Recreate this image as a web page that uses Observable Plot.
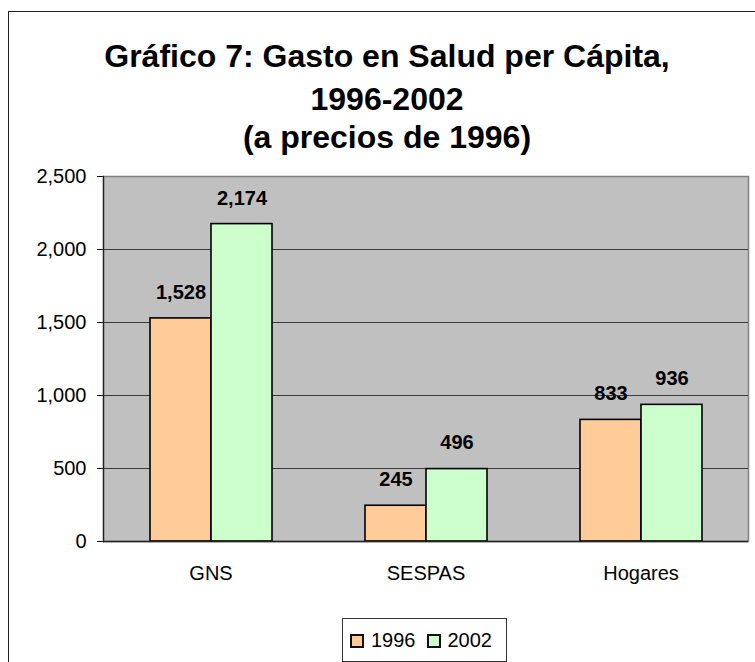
<!DOCTYPE html>
<html>
<head>
<meta charset="utf-8">
<script src="https://cdn.jsdelivr.net/npm/d3@7"></script>
<script src="https://cdn.jsdelivr.net/npm/@observablehq/plot@0.6"></script>
<style>
  html, body { margin: 0; padding: 0; background: #fff; overflow: hidden; width: 755px; height: 662px; }
  body { position: relative; font-family: "Liberation Sans", Arial, sans-serif; color: #000; }
  #outer { position: absolute; left: 8px; top: 11px; width: 800px; height: 700px; border: 1px solid #222; box-sizing: border-box; }
  .tl { position: absolute; left: 0; width: 774px; text-align: center; font-weight: bold; font-size: 32px; line-height: 40px; white-space: nowrap; }
  #chart { position: absolute; left: 0; top: 160px; }
  #legend { position: absolute; left: 342px; top: 618px; width: 165px; height: 44px; box-sizing: border-box; border: 1px solid #333; background: #fff; display: flex; align-items: center; padding-left: 7px; font-size: 20px; }
  .sw { display: inline-block; width: 14px; height: 14px; box-sizing: border-box; border: 2px solid #111; margin-right: 7px; margin-top: 2px; }
  .lb { margin-right: 11px; }
</style>
</head>
<body>
<div id="outer"></div>
<div class="tl" style="top:36px">Gráfico 7: Gasto en Salud per Cápita,</div>
<div class="tl" style="top:79px">1996-2002</div>
<div class="tl" style="top:117px">(a precios de 1996)</div>
<div id="chart"></div>
<div id="legend"></div>
<script>
const categories = ["GNS", "SESPAS", "Hogares"];
const years = ["1996", "2002"];
const values1996 = [1528, 245, 833];
const values2002 = [2174, 496, 936];
const yTicks = [0, 500, 1000, 1500, 2000, 2500];
const gridTicks = [500, 1000, 1500, 2000];
const seriesColors = ["#FFCC99", "#CCFFCC"];

const seriesValues = [values1996, values2002];
const data = [];
categories.forEach((c, i) => {
  years.forEach((yr, j) => data.push({cat: c, year: yr, value: seriesValues[j][i]}));
});
const fmt = d3.format(",");

const chart = Plot.plot({
  width: 755,
  height: 440,
  marginTop: 16,
  marginBottom: 59,
  marginLeft: 102,
  marginRight: 7,
  style: {fontFamily: "'Liberation Sans', Arial, sans-serif", fontSize: "20px", color: "#000", background: "transparent", overflow: "visible"},
  fx: {domain: categories, padding: 0, label: null, tickSize: 0, tickPadding: 24},
  x: {domain: years, paddingInner: 0, paddingOuter: 0.736, axis: null},
  y: {domain: [0, 2500], ticks: yTicks, tickFormat: d => fmt(d), tickSize: 6, tickPadding: 11, label: null},
  color: {domain: years, range: seriesColors},
  marks: [
    Plot.frame({facet: "super", fill: "#C0C0C0", stroke: "#808080", strokeWidth: 1.5}),
    Plot.ruleY(gridTicks, {stroke: "#3a3a3a", strokeWidth: 1.2}),
    Plot.barY(data, {fx: "cat", x: "year", y: "value", fill: "year", stroke: "#000", strokeWidth: 1.6}),
    Plot.text(data, {fx: "cat", x: "year", y: "value", text: d => fmt(d.value), dy: -26, fontWeight: "bold", fontSize: 20}),
    Plot.ruleY([0], {stroke: "#222", strokeWidth: 1.3}),
    Plot.frame({facet: "super", anchor: "left", stroke: "#222", strokeWidth: 1.3})
  ]
});
document.getElementById("chart").appendChild(chart);

const legend = d3.select("#legend");
years.forEach((yr, j) => {
  legend.append("span").attr("class", "sw").style("background", seriesColors[j]);
  legend.append("span").attr("class", "lb").text(yr);
});
</script>
</body>
</html>
